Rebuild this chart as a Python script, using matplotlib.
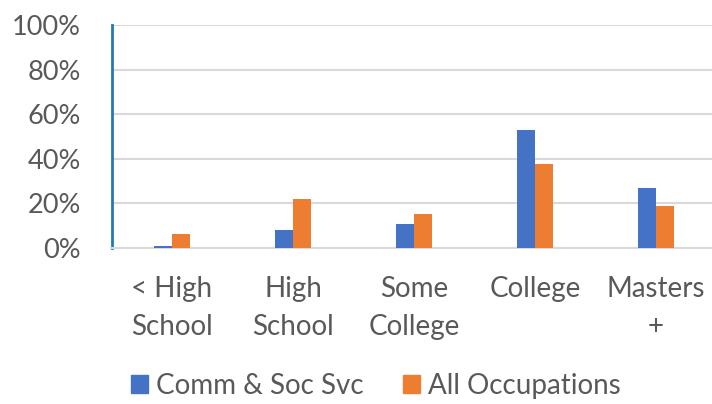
import matplotlib
matplotlib.use("Agg")
import matplotlib.pyplot as plt
import numpy as np
from matplotlib.patches import Patch

categories = ["< High\nSchool", "High\nSchool", "Some\nCollege", "College", "Masters\n+"]
comm_soc_svc = [1.0, 8.0, 10.8, 52.9, 26.8]
all_occupations = [6.3, 21.8, 15.1, 37.5, 18.8]
yticks = [0, 20, 40, 60, 80, 100]

blue = "#4472C4"
orange = "#ED7D31"
text_color = "#595959"

plt.rcParams["font.family"] = ["Lato", "DejaVu Sans"]

fig = plt.figure(figsize=(7.12, 4.04), dpi=100)
ax = fig.add_axes([111.5 / 712, 1 - 248 / 404, 605 / 712, 223 / 404])

x = np.arange(len(categories))
w = 0.145
ax.bar(x - w / 2, comm_soc_svc, w, color=blue, label="Comm & Soc Svc", zorder=3)
ax.bar(x + w / 2, all_occupations, w, color=orange, label="All Occupations", zorder=3)

ax.set_xlim(-0.5, len(categories) - 0.5)
ax.set_ylim(0, 100)
ax.set_yticks(yticks)
ax.set_yticklabels([f"{v}%" for v in yticks], fontsize=19.5, color=text_color)
ax.set_xticks(x)
ax.set_xticklabels(categories, fontsize=20, color=text_color, linespacing=1.6)
ax.tick_params(axis="both", length=0)
ax.tick_params(axis="y", pad=22)
ax.tick_params(axis="x", pad=20)

ax.grid(axis="y", color="#d9d9d9", linewidth=1.5, zorder=0)
for s in ["top", "right"]:
    ax.spines[s].set_visible(False)
ax.spines["bottom"].set_color("#d9d9d9")
ax.spines["bottom"].set_linewidth(1.5)
ax.spines["left"].set_color("#1f7bb5")
ax.spines["left"].set_linewidth(2)

handles = [Patch(color=blue, label="Comm & Soc Svc"),
           Patch(color=orange, label="All Occupations")]
fig.legend(handles=handles, loc="center", bbox_to_anchor=(376 / 712, 1 - 386 / 404),
           ncol=2, frameon=False, fontsize=20, labelcolor=text_color,
           handlelength=0.62, handleheight=0.62, handletextpad=0.3, columnspacing=1.4)

fig.savefig("out.png", dpi=100)
